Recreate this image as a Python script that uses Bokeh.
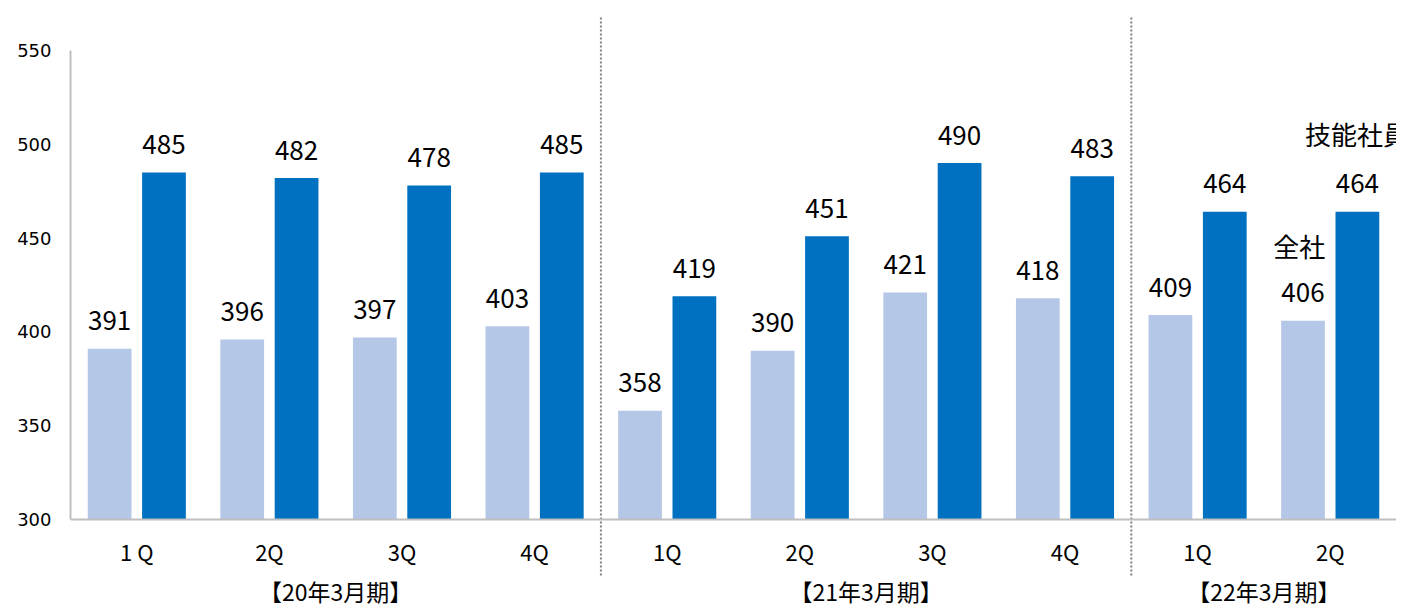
from bokeh.plotting import figure
from bokeh.models import ColumnDataSource, Range1d, Label, Span, FixedTicker
from bokeh.transform import dodge
from bokeh.core.properties import value
from bokeh.embed import file_html
from bokeh.resources import INLINE

# ---- data ----
years = ["【20年3月期】", "【21年3月期】", "【22年3月期】"]
quarters = [["1 Q", "2Q", "3Q", "4Q"], ["1Q", "2Q", "3Q", "4Q"], ["1Q", "2Q"]]
all_company = [391, 396, 397, 403, 358, 390, 421, 418, 409, 406]   # 全社
skilled = [485, 482, 478, 485, 419, 451, 490, 483, 464, 464]       # 技能社員
y_ticks = [300, 350, 400, 450, 500, 550]
series_names = ["全社", "技能社員"]

n = len(all_company)
# category slots: each quarter occupies one unit on the x scale
q_centres = [i + 0.5 for i in range(n)]
q_labels = [q for qs in quarters for q in qs]
bounds, starts = [], []
c = 0
for qs in quarters:
    starts.append(c)
    c += len(qs)
    bounds.append(c)
y_centres = [(s0 + b) / 2 for s0, b in zip(starts, bounds)]
inner_bounds = bounds[:-1]
base = y_ticks[0]

src = ColumnDataSource(dict(
    x=q_centres,
    a=all_company,
    s=skilled,
    a_txt=[str(v) for v in all_company],
    s_txt=[str(v) for v in skilled],
    q=q_labels,
    base=[base] * n,
))
ysrc = ColumnDataSource(dict(x=y_centres, t=years, base=[base] * len(years)))

LIGHT = "#B4C7E7"
DARK = "#0070C0"
SEP = "#808080"
AXIS = "#BFBFBF"
CJK = "Noto Sans CJK JP"

PX = 1.876  # pixels per unit on the value axis
H = 607
p = figure(
    width=1396, height=H,
    x_range=Range1d(0, n),
    y_range=Range1d(base - (H - 519) / PX, y_ticks[-1] + 35 / PX),
    x_axis_location=None,
    output_backend="svg", toolbar_location=None,
    min_border_left=70, min_border_right=0, min_border_top=15, min_border_bottom=0,
)
p.outline_line_color = None
p.xgrid.grid_line_color = None
p.ygrid.grid_line_color = None
p.background_fill_color = "white"
p.border_fill_color = "white"

BW = 0.33
OFF = 0.205
p.vbar(x=dodge("x", -OFF), top="a", bottom=base, width=BW, source=src,
       fill_color=LIGHT, line_color=None)
p.vbar(x=dodge("x", OFF), top="s", bottom=base, width=BW, source=src,
       fill_color=DARK, line_color=None)

p.text(x=dodge("x", -OFF), y="a", text="a_txt", source=src,
       text_align="center", text_baseline="alphabetic", y_offset=-28,
       text_font=value(CJK), text_font_size="26px", text_color="#000000")
p.text(x=dodge("x", OFF), y="s", text="s_txt", source=src,
       text_align="center", text_baseline="alphabetic", y_offset=-28,
       text_font=value(CJK), text_font_size="26px", text_color="#000000")

# category axis line
p.add_layout(Span(location=base, dimension="width", line_color=AXIS, line_width=2))

# quarter and fiscal-year labels
p.text(x="x", y="base", text="q", source=src, text_align="center", text_baseline="middle",
       y_offset=31, text_font=value(CJK), text_font_size="22px", text_color="#000000")
p.text(x="x", y="base", text="t", source=ysrc, text_align="center", text_baseline="middle",
       y_offset=71, text_font=value(CJK), text_font_size="23px", text_color="#000000")

# separators between fiscal years
p.segment(x0=inner_bounds, x1=inner_bounds,
          y0=[base - 56 / PX] * len(inner_bounds), y1=[y_ticks[-1] + 35 / PX] * len(inner_bounds),
          line_color=SEP, line_width=2, line_dash="2 2")

# series name labels
p.add_layout(Label(x=9.31, y=505.5, text=series_names[1], text_font=CJK, text_font_size="26px",
                   text_baseline="middle", text_align="left", text_color="#000000"))
p.add_layout(Label(x=9.07, y=446, text=series_names[0], text_font=CJK, text_font_size="26px",
                   text_baseline="middle", text_align="left", text_color="#000000"))

# y axis
ax = p.yaxis[0]
ax.ticker = FixedTicker(ticks=y_ticks)
ax.bounds = (y_ticks[0], y_ticks[-1])
ax.axis_line_color = AXIS
ax.axis_line_width = 2
ax.major_tick_line_color = None
ax.minor_tick_line_color = None
ax.major_tick_out = 0
ax.major_tick_in = 0
ax.major_label_standoff = 19
ax.major_label_text_font = "DejaVu Sans"
ax.major_label_text_font_size = "18px"
ax.major_label_text_color = "#000000"

open("out.html", "w").write(file_html(p, INLINE))
